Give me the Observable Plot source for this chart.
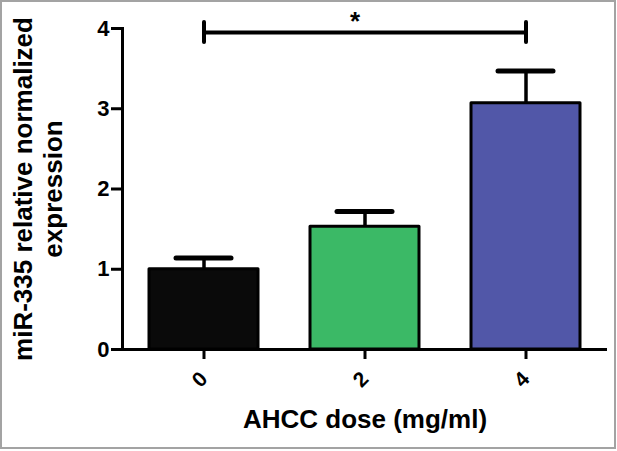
<!DOCTYPE html>
<html>
<head>
<meta charset="utf-8">
<script src="https://cdn.jsdelivr.net/npm/d3@7"></script>
<script src="https://cdn.jsdelivr.net/npm/@observablehq/plot@0.6"></script>
<style>
  html, body { margin: 0; padding: 0; background: #fff; }
  #wrap { position: relative; width: 617px; height: 451px; overflow: hidden; }
  #border { position: absolute; left: 0; top: 0; width: 616px; height: 449px; box-sizing: border-box; border: 2px solid #a3a3a3; pointer-events: none; }
  #chart { position: absolute; left: 0; top: 0; }
</style>
</head>
<body>
<div id="wrap"><div id="chart"></div><div id="border"></div></div>
<script>
// Data
const doses = ["0", "2", "4"];
const means = [1.0, 1.53, 3.07];
const sems = [0.14, 0.19, 0.40];
const barColors = ["#0a0a0a", "#3bb966", "#5157a8"];
const yTicks = [0, 1, 2, 3, 4];
const xTitle = "AHCC dose (mg/ml)";
const yTitleLines = ["miR-335 relative normalized", "expression"];
const sigPair = ["0", "4"];
const sigLevel = 3.95;
const sigLabel = "*";

const data = doses.map((d, i) => ({dose: d, mean: means[i], top: means[i] + sems[i]}));
const bracket = [{from: sigPair[0], to: sigPair[1], level: sigLevel}];
const font = "'Liberation Sans', Arial, Helvetica, sans-serif";

const chart = Plot.plot({
  width: 617,
  height: 451,
  marginLeft: 122,
  marginRight: 10,
  marginTop: 28,
  marginBottom: 102,
  style: {fontFamily: font, background: "transparent", overflow: "visible"},
  x: {domain: doses, paddingInner: 0.325, paddingOuter: 0.1625, axis: null},
  y: {domain: [0, 4], axis: null},
  color: {domain: doses, range: barColors},
  marks: [
    // error bars (drawn under bars so only upper part shows)
    Plot.ruleX(data, {x: "dose", y1: "mean", y2: "top", stroke: "#000", strokeWidth: 3.5}),
    Plot.tickY(data, {x: "dose", y: "top", insetLeft: 27, insetRight: 27, stroke: "#000", strokeWidth: 5, strokeLinecap: "round"}),
    Plot.barY(data, {x: "dose", y: "mean", fill: "dose", stroke: "#000", strokeWidth: 3, strokeLinejoin: "round"}),
    // axes
    Plot.axisY({ticks: yTicks, tickSize: 11, tickPadding: 2, strokeWidth: 3, fontSize: 22, fontWeight: "bold", label: null, tickFormat: d3.format("d")}),
    Plot.axisX({tickSize: 10, tickPadding: 16, tickRotate: -45, strokeWidth: 3, fontSize: 21, fontWeight: "bold", label: null}),
    Plot.frame({anchor: "left", stroke: "#000", strokeWidth: 3}),
    Plot.ruleY([0], {stroke: "#000", strokeWidth: 3}),
    // significance bracket
    Plot.link(bracket, {x1: "from", x2: "to", y1: "level", y2: "level", stroke: "#000", strokeWidth: 4}),
    Plot.ruleX(sigPair, {x: d => d, y1: () => sigLevel, y2: () => sigLevel, insetTop: -10, insetBottom: -10, stroke: "#000", strokeWidth: 4, strokeLinecap: "round"}),
    Plot.text([sigLabel], {x: () => doses[1], y: () => sigLevel, dx: -10, dy: -11, fontSize: 26, fontWeight: "bold", fill: "#000"}),
    // titles
    Plot.text([xTitle], {frameAnchor: "bottom", dy: 78, fontSize: 26, fontWeight: "bold", fill: "#000"}),
    Plot.text([yTitleLines.join("\n")], {frameAnchor: "left", textAnchor: "middle", rotate: -90, dx: -85, lineHeight: 1.15, fontSize: 26, fontWeight: "bold", fill: "#000"})
  ]
});
document.getElementById("chart").appendChild(chart);
</script>
</body>
</html>
